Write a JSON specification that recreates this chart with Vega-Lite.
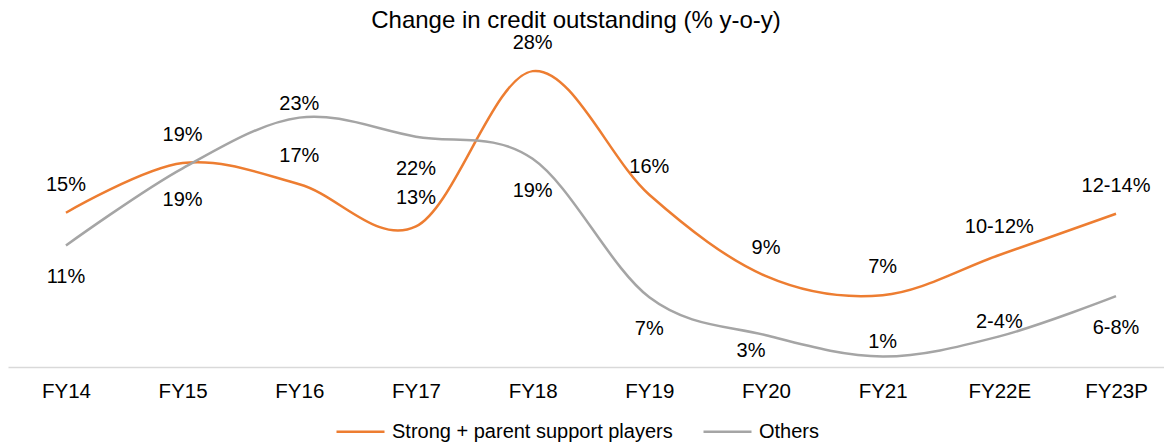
{
  "$schema": "https://vega.github.io/schema/vega-lite/v6.json",
  "width": 1156,
  "height": 317,
  "autosize": {"type": "none"},
  "padding": {"left": 8, "top": 50, "right": 0, "bottom": 78},
  "background": "white",
  "title": {
    "text": "Change in credit outstanding (% y-o-y)",
    "fontSize": 24,
    "font": "Liberation Sans",
    "fontWeight": "normal",
    "color": "#000000",
    "anchor": "middle",
    "offset": 0,
    "dx": -10
  },
  "data": {
    "values": [
      {"year": "FY14", "series": "Strong + parent support players", "value": 14.6, "label": "15%"},
      {"year": "FY15", "series": "Strong + parent support players", "value": 19.3, "label": "19%"},
      {"year": "FY16", "series": "Strong + parent support players", "value": 17.3, "label": "17%"},
      {"year": "FY17", "series": "Strong + parent support players", "value": 13.3, "label": "13%"},
      {"year": "FY18", "series": "Strong + parent support players", "value": 28.0, "label": "28%"},
      {"year": "FY19", "series": "Strong + parent support players", "value": 16.3, "label": "16%"},
      {"year": "FY20", "series": "Strong + parent support players", "value": 8.6, "label": "9%"},
      {"year": "FY21", "series": "Strong + parent support players", "value": 6.8, "label": "7%"},
      {"year": "FY22E", "series": "Strong + parent support players", "value": 10.6, "label": "10-12%"},
      {"year": "FY23P", "series": "Strong + parent support players", "value": 14.5, "label": "12-14%"},
      {"year": "FY14", "series": "Others", "value": 11.5, "label": "11%"},
      {"year": "FY15", "series": "Others", "value": 18.8, "label": "19%"},
      {"year": "FY16", "series": "Others", "value": 23.6, "label": "23%"},
      {"year": "FY17", "series": "Others", "value": 21.8, "label": "22%"},
      {"year": "FY18", "series": "Others", "value": 19.7, "label": "19%"},
      {"year": "FY19", "series": "Others", "value": 6.6, "label": "7%"},
      {"year": "FY20", "series": "Others", "value": 3.0, "label": "3%"},
      {"year": "FY21", "series": "Others", "value": 1.0, "label": "1%"},
      {"year": "FY22E", "series": "Others", "value": 2.9, "label": "2-4%"},
      {"year": "FY23P", "series": "Others", "value": 6.7, "label": "6-8%"}
    ]
  },
  "encoding": {
    "x": {
      "field": "year",
      "type": "ordinal",
      "sort": null,
      "scale": {"type": "point", "padding": 0.454, "align": 0.547},
      "axis": {
        "title": null,
        "labelAngle": 0,
        "labelFontSize": 20.5,
        "labelFont": "Liberation Sans",
        "labelColor": "#000000",
        "ticks": false,
        "domainColor": "#d9d9d9",
        "domainWidth": 1.5,
        "labelPadding": 14,
        "grid": false
      }
    },
    "y": {
      "field": "value",
      "type": "quantitative",
      "scale": {"domain": [0, 30], "nice": false},
      "axis": null
    }
  },
  "layer": [
    {
      "mark": {"type": "line", "interpolate": "cardinal", "strokeWidth": 2.5},
      "encoding": {
        "color": {
          "field": "series",
          "type": "nominal",
          "scale": {
            "domain": ["Strong + parent support players", "Others"],
            "range": ["#ED7D31", "#A5A5A5"]
          },
          "legend": {
            "title": null,
            "orient": "none",
            "legendX": 327,
            "legendY": 356,
            "direction": "horizontal",
            "symbolType": "stroke",
            "symbolSize": 2304,
            "symbolStrokeWidth": 2.5,
            "labelFontSize": 20,
            "labelFont": "Liberation Sans",
            "labelColor": "#000000",
            "labelOffset": 6,
            "columnPadding": 25,
            "labelLimit": 500
          }
        }
      }
    },
    {
      "transform": [{"filter": "datum.series == 'Strong + parent support players'"}],
      "mark": {"type": "text", "dy": -28, "fontSize": 20, "font": "Liberation Sans", "color": "#000000", "baseline": "middle", "align": "center"},
      "encoding": {"text": {"field": "label"}}
    },
    {
      "transform": [{"filter": "datum.series == 'Others' && indexof(['FY16','FY21','FY22E'], datum.year) >= 0"}],
      "mark": {"type": "text", "dy": -14, "fontSize": 20, "font": "Liberation Sans", "color": "#000000", "baseline": "middle", "align": "center"},
      "encoding": {"text": {"field": "label"}}
    },
    {
      "transform": [{"filter": "datum.series == 'Others' && datum.year == 'FY20'"}],
      "mark": {"type": "text", "dy": 16, "dx": -15, "fontSize": 20, "font": "Liberation Sans", "color": "#000000", "baseline": "middle", "align": "center"},
      "encoding": {"text": {"field": "label"}}
    },
    {
      "transform": [{"filter": "datum.series == 'Others' && indexof(['FY16','FY21','FY22E','FY20'], datum.year) < 0"}],
      "mark": {"type": "text", "dy": 32, "fontSize": 20, "font": "Liberation Sans", "color": "#000000", "baseline": "middle", "align": "center"},
      "encoding": {"text": {"field": "label"}}
    }
  ],
  "config": {"view": {"stroke": null}}
}
